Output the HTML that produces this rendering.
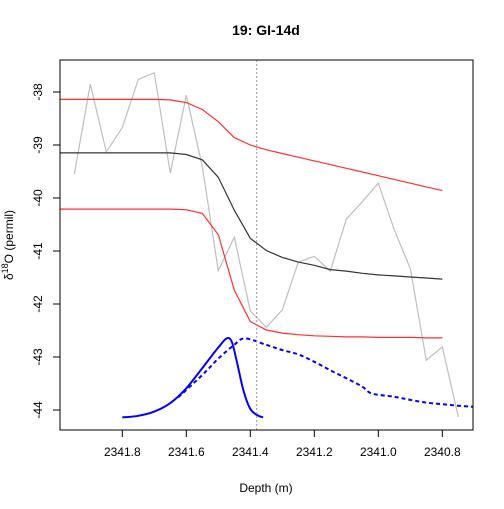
<!DOCTYPE html>
<html><head><meta charset="utf-8"><style>
body{margin:0;background:#fff}
svg{font-family:"Liberation Sans",Arial,sans-serif}
</style></head><body>
<svg id="chart" width="504" height="504" viewBox="0 0 504 504" xmlns="http://www.w3.org/2000/svg">
<defs><clipPath id="pc"><rect x="60" y="60" width="413" height="370"/></clipPath></defs>
<rect width="504" height="504" fill="#fff"/>
<text x="266" y="35" text-anchor="middle" font-size="14" font-weight="bold">19: GI-14d</text>
<g id="plot" clip-path="url(#pc)"></g>
<g id="axes"></g>
<rect x="60" y="60" width="413" height="370" fill="none" stroke="#000" stroke-width="1"/>
<text x="266" y="492" text-anchor="middle" font-size="12">Depth (m)</text>
<text transform="translate(13,245) rotate(-90)" text-anchor="middle" font-size="12">δ<tspan dy="-5" font-size="9">18</tspan><tspan dy="5">O (permil)</tspan></text>
</svg>
<script>
const obsDepth=[2341.95,2341.90,2341.85,2341.80,2341.75,2341.70,2341.65,2341.60,2341.55,2341.50,2341.45,2341.40,2341.35,2341.30,2341.25,2341.20,2341.15,2341.10,2341.05,2341.00,2340.95,2340.90,2340.85,2340.80,2340.75];
const obsValues=[-39.55,-37.85,-39.13,-38.67,-37.76,-37.64,-39.53,-38.06,-39.41,-41.37,-40.74,-42.13,-42.44,-42.11,-41.21,-41.10,-41.38,-40.40,-40.07,-39.72,-40.60,-41.33,-43.06,-42.81,-44.13];
const modelDepth=[2342.00,2341.95,2341.90,2341.85,2341.80,2341.75,2341.70,2341.65,2341.60,2341.55,2341.50,2341.45,2341.40,2341.35,2341.30,2341.25,2341.20,2341.15,2341.10,2341.05,2341.00,2340.95,2340.90,2340.85,2340.80];
const meanValues=[-39.15,-39.15,-39.15,-39.15,-39.15,-39.15,-39.15,-39.15,-39.18,-39.28,-39.61,-40.23,-40.76,-40.99,-41.12,-41.21,-41.27,-41.35,-41.38,-41.42,-41.45,-41.47,-41.49,-41.51,-41.53];
const upperValues=[-38.14,-38.14,-38.14,-38.14,-38.14,-38.14,-38.14,-38.15,-38.20,-38.33,-38.56,-38.86,-39.00,-39.09,-39.16,-39.23,-39.30,-39.37,-39.44,-39.51,-39.58,-39.65,-39.72,-39.79,-39.86];
const lowerValues=[-40.21,-40.21,-40.21,-40.21,-40.21,-40.21,-40.21,-40.21,-40.22,-40.29,-40.69,-41.74,-42.33,-42.49,-42.55,-42.58,-42.60,-42.61,-42.62,-42.62,-42.63,-42.63,-42.63,-42.64,-42.64];
const densDepth=[2341.80,2341.75,2341.70,2341.65,2341.60,2341.55,2341.50,2341.474,2341.458,2341.443,2341.422,2341.401,2341.38,2341.36];
const densValues=[-44.14,-44.11,-44.03,-43.87,-43.59,-43.21,-42.82,-42.65,-42.71,-43.06,-43.62,-43.97,-44.09,-44.14];
const priorDepth=[2341.625,2341.55,2341.50,2341.45,2341.417,2341.35,2341.30,2341.25,2341.20,2341.15,2341.10,2341.05,2341.02,2340.95,2340.90,2340.85,2340.80,2340.75,2340.70];
const priorValues=[-43.76,-43.34,-43.03,-42.77,-42.65,-42.77,-42.87,-42.95,-43.09,-43.25,-43.40,-43.56,-43.69,-43.75,-43.81,-43.86,-43.89,-43.92,-43.94];
const xTicks=[2341.8,2341.6,2341.4,2341.2,2341.0,2340.8];
const xTickLabels=["2341.8","2341.6","2341.4","2341.2","2341.0","2340.8"];
const yTicks=[-38,-39,-40,-41,-42,-43,-44];
const yTickLabels=["-38","-39","-40","-41","-42","-43","-44"];
const eventDepth=2341.38;

const X=d=>122.3+(2341.8-d)*320;
const Y=v=>92+(-38-v)*53;
const NS="http://www.w3.org/2000/svg";
const plot=document.getElementById('plot'), axes=document.getElementById('axes');
function line(ds,vs,color,w,dash,name){
  const p=document.createElementNS(NS,'polyline');
  p.setAttribute('points',ds.map((d,i)=>X(d).toFixed(1)+','+Y(vs[i]).toFixed(1)).join(' '));
  p.setAttribute('fill','none');p.setAttribute('stroke',color);p.setAttribute('stroke-width',w);
  if(dash)p.setAttribute('stroke-dasharray',dash);
  
  
  plot.appendChild(p);
}
function smooth(ds,vs,color,w,dash,name){
  const pts=ds.map((d,i)=>[X(d),Y(vs[i])]);
  let s='M'+pts[0][0].toFixed(1)+','+pts[0][1].toFixed(1);
  for(let i=0;i<pts.length-1;i++){
    const p0=pts[Math.max(i-1,0)],p1=pts[i],p2=pts[i+1],p3=pts[Math.min(i+2,pts.length-1)];
    const c1=[p1[0]+(p2[0]-p0[0])/6,p1[1]+(p2[1]-p0[1])/6];
    const c2=[p2[0]-(p3[0]-p1[0])/6,p2[1]-(p3[1]-p1[1])/6];
    s+=' C'+c1.map(n=>n.toFixed(1))+' '+c2.map(n=>n.toFixed(1))+' '+p2.map(n=>n.toFixed(1));
  }
  const p=document.createElementNS(NS,'path');
  p.setAttribute('d',s);p.setAttribute('fill','none');p.setAttribute('stroke',color);p.setAttribute('stroke-width',w);
  if(dash)p.setAttribute('stroke-dasharray',dash);
  
  
  plot.appendChild(p);
}
line(obsDepth,obsValues,'#bebebe',1.2,null,'observed-series');
line(modelDepth,upperValues,'#ff3030',1.2,null,'upper-bound-line');
line(modelDepth,meanValues,'#333',1.2,null,'mean-fit-line');
line(modelDepth,lowerValues,'#ff3030',1.2,null,'lower-bound-line');
smooth(densDepth,densValues,'#0000ff',2,null,'posterior-density');
smooth(priorDepth,priorValues,'#0000ff',2,'4,3','prior-density');
const v=document.createElementNS(NS,'line');
v.setAttribute('x1',X(eventDepth));v.setAttribute('x2',X(eventDepth));v.setAttribute('y1',60);v.setAttribute('y2',430);
v.setAttribute('stroke','#999');v.setAttribute('stroke-dasharray','2,2');


plot.appendChild(v);
xTicks.forEach((t,i)=>{
  const l=document.createElementNS(NS,'line');
  l.setAttribute('x1',X(t));l.setAttribute('x2',X(t));l.setAttribute('y1',430);l.setAttribute('y2',437);l.setAttribute('stroke','#000');
  
  
  axes.appendChild(l);
  const tx=document.createElementNS(NS,'text');
  tx.setAttribute('x',X(t));tx.setAttribute('y',456);tx.setAttribute('text-anchor','middle');tx.setAttribute('font-size','12');
  tx.textContent=xTickLabels[i];
  
  
  axes.appendChild(tx);
});
yTicks.forEach((t,i)=>{
  const l=document.createElementNS(NS,'line');
  l.setAttribute('x1',53);l.setAttribute('x2',60);l.setAttribute('y1',Y(t));l.setAttribute('y2',Y(t));l.setAttribute('stroke','#000');
  
  
  axes.appendChild(l);
  const tx=document.createElementNS(NS,'text');
  tx.setAttribute('transform','translate(42,'+Y(t)+') rotate(-90)');tx.setAttribute('text-anchor','middle');tx.setAttribute('font-size','12');
  tx.textContent=yTickLabels[i];
  
  
  axes.appendChild(tx);
});
</script>
</body></html>
